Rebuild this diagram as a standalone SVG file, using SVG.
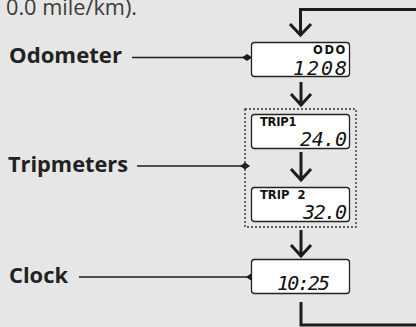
<svg xmlns="http://www.w3.org/2000/svg" width="416" height="327" viewBox="0 0 416 327">
<style>
.bg{fill:#e6e6e6}
.lbl{font-family:"Open Sans","Noto Sans",sans-serif;font-weight:bold;font-size:21.5px;fill:#222}
.top{font-family:"Open Sans","Noto Sans",sans-serif;font-size:21.5px;fill:#3a3a3a}
.box{fill:#fff;stroke:#222;stroke-width:1.3}
.tag{font-family:"DejaVu Sans",sans-serif;font-weight:bold;font-size:11.5px;fill:#111;letter-spacing:1.6px}
.dig{font-family:"DejaVu Sans Mono",monospace;font-style:italic;font-size:20px;fill:#111}
.flow{fill:none;stroke:#1c1c1c;stroke-width:3}
.lead{fill:none;stroke:#1c1c1c;stroke-width:1.6}
.dia{fill:#1c1c1c}
</style>
<rect class="bg" width="416" height="327"/>
<text class="top" x="6" y="14.5" textLength="131" lengthAdjust="spacingAndGlyphs">0.0 mile/km).</text>

<g id="connectors">
  <path class="flow" d="M416,9.5 H300.5 V35"/>
  <path class="flow" d="M290,24 L300.5,35 L311,24"/>
  <path class="flow" d="M301,82 V105 M291,94 L301,105 L311,94"/>
  <path class="flow" d="M301,152 V180 M291,169 L301,180 L311,169"/>
  <path class="flow" d="M301,230 V256 M291,245 L301,256 L311,245"/>
  <path class="flow" d="M301,302 V325 H416"/>
  <path class="lead" d="M132,57.5 H246"/>
  <path class="dia" d="M242,57.5 L247,54 L252,57.5 L247,61 Z"/>
  <path class="lead" d="M137,166 H244"/>
  <path class="dia" d="M240,166 L245,162.5 L250,166 L245,169.5 Z"/>
  <path class="lead" d="M79,277 H250"/>
  <path class="dia" d="M246,277 L251,273.5 L256,277 L251,280.5 Z"/>
</g>

<g id="odometer">
  <text class="lbl" x="9" y="63" textLength="113" lengthAdjust="spacingAndGlyphs">Odometer</text>
  <rect class="box" x="251.5" y="42.5" width="98" height="34" rx="3"/>
  <text class="tag" x="313" y="53.5" textLength="34" lengthAdjust="spacing">ODO</text>
  <text class="dig" x="347" y="74.5" text-anchor="end" textLength="54" lengthAdjust="spacing">1208</text>
</g>

<g id="tripmeters">
  <text class="lbl" x="8" y="172" textLength="120" lengthAdjust="spacingAndGlyphs">Tripmeters</text>
  <rect x="245" y="109" width="111" height="118" fill="none" stroke="#333" stroke-width="1.4" stroke-dasharray="2 2"/>
  <g id="trip1">
    <rect class="box" x="251.5" y="114.5" width="98" height="34" rx="3"/>
    <text class="tag" x="260" y="126" textLength="38" lengthAdjust="spacing">TRIP1</text>
    <text class="dig" x="347" y="145.5" text-anchor="end" textLength="47" lengthAdjust="spacing">24.0</text>
  </g>
  <g id="trip2">
    <rect class="box" x="251.5" y="187.5" width="98" height="34" rx="3"/>
    <text class="tag" x="260" y="199" xml:space="preserve" textLength="47" lengthAdjust="spacing">TRIP  2</text>
    <text class="dig" x="347" y="218.5" text-anchor="end" textLength="44" lengthAdjust="spacing">32.0</text>
  </g>
</g>

<g id="clock">
  <text class="lbl" x="9" y="283" textLength="59" lengthAdjust="spacingAndGlyphs">Clock</text>
  <rect class="box" x="251.5" y="259.5" width="98" height="34" rx="3"/>
  <text class="dig" x="277" y="290" textLength="53" lengthAdjust="spacing">10:25</text>
</g>
</svg>
